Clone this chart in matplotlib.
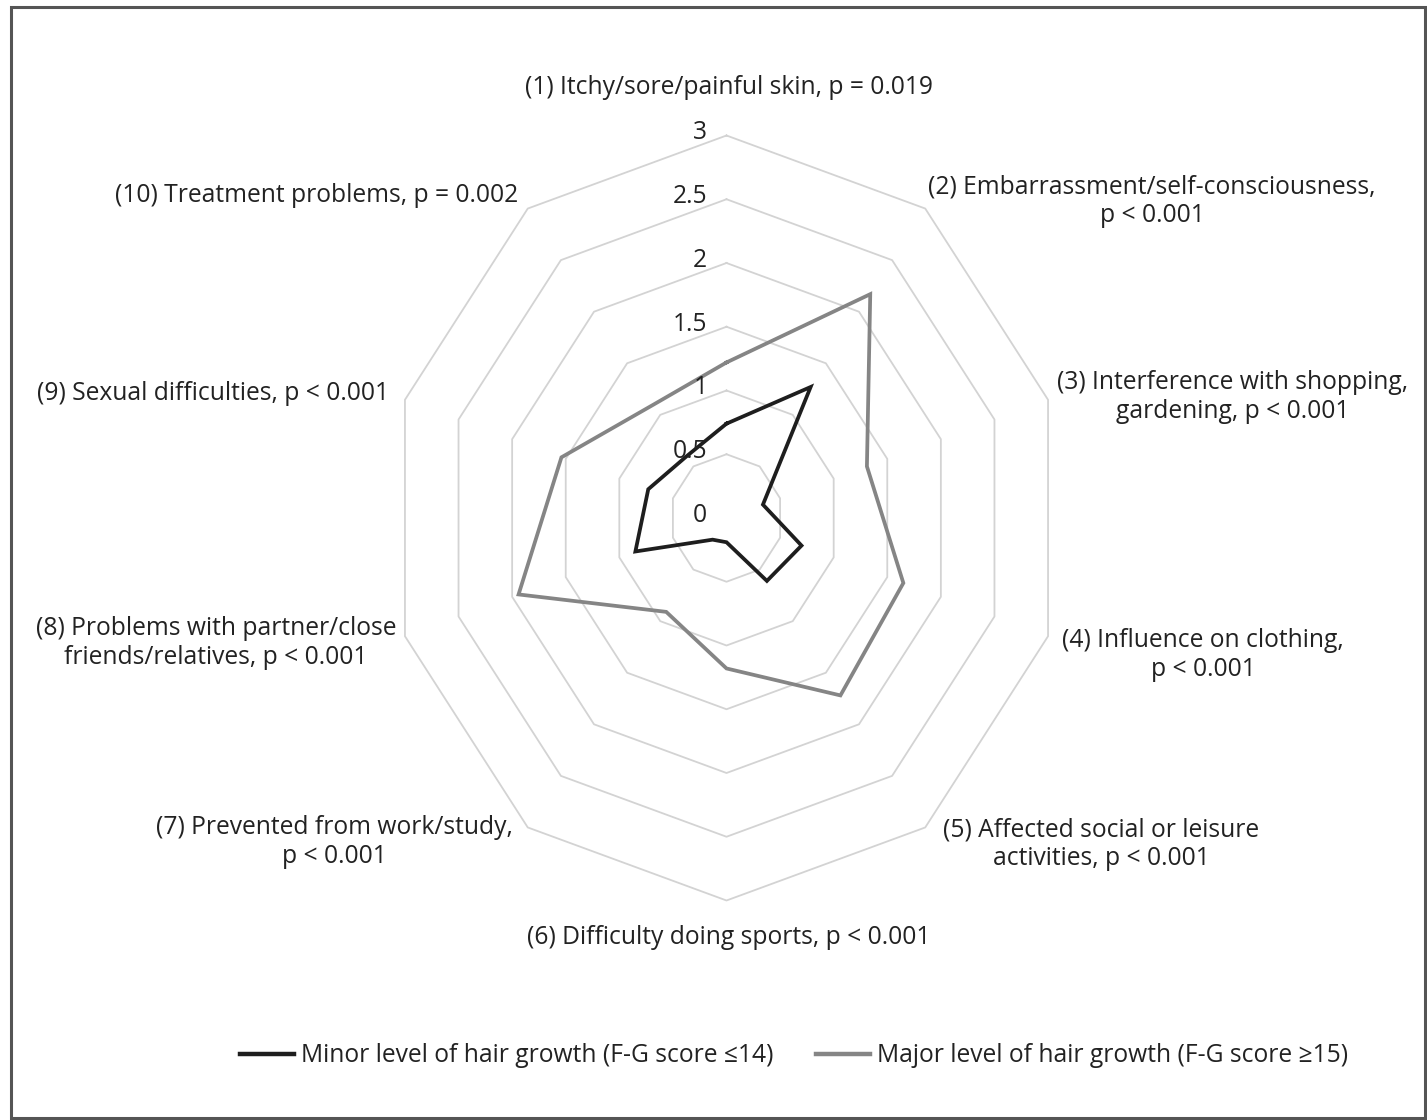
import numpy as np
import matplotlib
matplotlib.use("Agg")
import matplotlib.pyplot as plt
from matplotlib.patches import Rectangle

plt.rcParams['font.family'] = ['Open Sans', 'DejaVu Sans']

# Données (score moyen par item)
categories = [
    "(1) Itchy/sore/painful skin, p = 0.019",
    "(2) Embarrassment/self-consciousness,\np < 0.001",
    "(3) Interference with shopping,\ngardening, p < 0.001",
    "(4) Influence on clothing,\np < 0.001",
    "(5) Affected social or leisure\nactivities, p < 0.001",
    "(6) Difficulty doing sports, p < 0.001",
    "(7) Prevented from work/study,\np < 0.001",
    "(8) Problems with partner/close\nfriends/relatives, p < 0.001",
    "(9) Sexual difficulties, p < 0.001",
    "(10) Treatment problems, p = 0.002",
]
minor_vals = [0.74, 1.27, 0.34, 0.70, 0.61, 0.19, 0.21, 0.85, 0.73, 0.60]
major_vals = [1.22, 2.17, 1.31, 1.65, 1.72, 1.18, 0.91, 1.94, 1.54, 1.10]
series_names = ["Minor level of hair growth (F-G score \u226414)",
                "Major level of hair growth (F-G score \u226515)"]
ticks = [0, 0.5, 1, 1.5, 2, 2.5, 3]
tick_labels = ["0", "0.5", "1", "1.5", "2", "2.5", "3"]

# Mise en page (pixels de l'image de référence)
W, H = 1427, 1120
cx, cy = 726.5, 518
sx, sy = 112.7, 127.5   # pixels par unité (le graphique est un peu écrasé en largeur)
label_pos = [(729, 87), (1152, 201), (1233, 397), (1203, 655), (1101, 844),
             (729, 937), (334, 842), (216, 643), (213, 393), (317, 195)]
fs = 17.7

fig = plt.figure(figsize=(W / 100, H / 100), dpi=100)
ax = fig.add_axes([0, 0, 1, 1])
ax.set_xlim(-cx / sx, (W - cx) / sx)
ax.set_ylim(-(H - cy) / sy, cy / sy)
ax.axis('off')

n = len(categories)
angles = np.arange(n) * 2 * np.pi / n

def to_xy(vals):
    vals = np.asarray(vals + vals[:1])
    a = np.append(angles, angles[0])
    return vals * np.sin(a), vals * np.cos(a)

# Grille en décagones
for t in ticks[1:]:
    gx, gy = to_xy([t] * n)
    ax.plot(gx, gy, color='#d3d3d3', lw=1.3, zorder=1)

# Séries
x1, y1 = to_xy(minor_vals)
ax.plot(x1, y1, color='#1e1e1e', lw=2.7, zorder=3, label=series_names[0], solid_joinstyle='miter')
x2, y2 = to_xy(major_vals)
ax.plot(x2, y2, color='#858585', lw=2.7, zorder=2, label=series_names[1], solid_joinstyle='miter')

# Étiquettes de l'axe radial
for t, lab in zip(ticks, tick_labels):
    ax.text(-0.17, t + 0.02, lab, ha='right', va='center', fontsize=fs, color='#222222')

# Étiquettes des catégories
for lab, (px, py) in zip(categories, label_pos):
    ax.text((px - cx) / sx, (cy - py) / sy, lab, ha='center', va='center',
            multialignment='center', fontsize=fs, color='#222222', linespacing=1.2)

# Légende
leg = fig.legend(loc='center', bbox_to_anchor=(794 / W, 1 - 1056 / H), ncol=2, frameon=False,
                 fontsize=fs, handlelength=2.2, handletextpad=0.3, columnspacing=1.7)
for line in leg.get_lines():
    line.set_linewidth(3.2)
for txt in leg.get_texts():
    txt.set_color('#222222')

# Cadre
fig.patches.append(Rectangle((11 / W, 2 / H), (W - 13) / W, (H - 9) / H, transform=fig.transFigure,
                             fill=False, edgecolor='#555555', lw=2.2))

fig.savefig('out.png', dpi=100)
